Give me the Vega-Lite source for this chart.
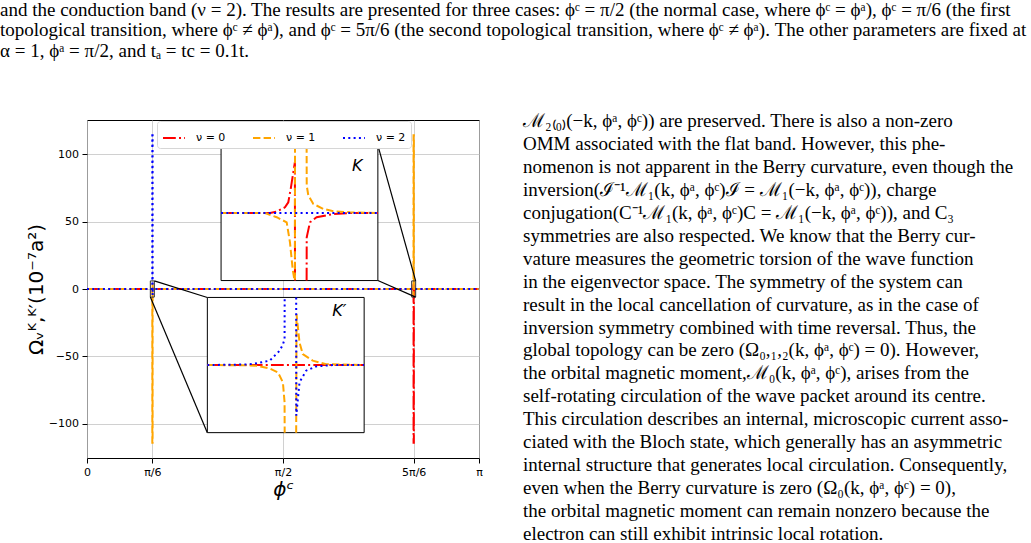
{
  "$schema": "https://vega.github.io/schema/vega-lite/v6.json",
  "padding": 0,
  "bounds": "flush",
  "spacing": 64,
  "resolve": {"scale": {"color": "independent", "strokeDash": "independent"}, "legend": {"color": "independent", "strokeDash": "independent"}},
  "config": {
    "view": {"stroke": null},
    "axis": {
      "labelFont": "DejaVu Sans", "labelFontSize": 11, "labelColor": "#000",
      "titleFont": "DejaVu Sans", "titleColor": "#000", "titleFontWeight": "normal",
      "tickColor": "#000", "tickSize": 5, "labelPadding": 3.5, "domain": false,
      "gridColor": "#c4c4c4", "gridWidth": 0.8
    }
  },
  "vconcat": [
    {
      "width": 1031, "height": 54,
      "data": {"values": [
        {"line": 1, "t": "and the conduction band (ν = 2). The results are presented for three cases: ϕᶜ = π/2 (the normal case, where ϕᶜ = ϕᵃ), ϕᶜ = π/6 (the first"},
        {"line": 2, "t": "topological transition, where ϕᶜ ≠ ϕᵃ), and ϕᶜ = 5π/6 (the second topological transition, where ϕᶜ ≠ ϕᵃ). The other parameters are fixed at"},
        {"line": 3, "t": "α = 1, ϕᵃ = π/2, and tₐ = tc = 0.1t."}
      ]},
      "mark": {"type": "text", "align": "left", "baseline": "middle", "font": "Liberation Serif", "fontSize": 19, "color": "#000"},
      "encoding": {
        "x": {"datum": 0, "type": "quantitative", "scale": {"domain": [0, 1]}, "axis": null},
        "y": {"field": "line", "type": "quantitative", "scale": {"domain": [0.61, 3.244], "reverse": true, "nice": false, "zero": false}, "axis": null},
        "text": {"field": "t"}
      }
    },
    {
      "bounds": "flush",
      "spacing": 44,
      "resolve": {"scale": {"color": "independent", "strokeDash": "independent"}, "legend": {"color": "independent", "strokeDash": "independent"}},
      "hconcat": [
        {
          "width": 43, "height": 338,
          "data": {"values": []},
          "mark": "point",
          "encoding": {}
        },
        {
          "width": 392, "height": 338,
          "view": {"stroke": "#000", "strokeWidth": 1},
          "resolve": {"scale": {"x": "independent", "y": "independent"}},
          "layer": [
            {
              "encoding": {
                "x": {"field": "phi", "type": "quantitative", "title": "ϕᶜ",
                  "scale": {"domain": [0, 3.1415926536], "nice": false, "zero": false},
                  "axis": {"values": [0, 0.5235987756, 1.5707963268, 2.617993878, 3.1415926536],
                    "labelExpr": "datum.value < 0.1 ? '0' : datum.value < 1 ? 'π/6' : datum.value < 2 ? 'π/2' : datum.value < 3 ? '5π/6' : 'π'",
                    "labelFlush": false, "labelOverlap": false, "labelBound": false, "grid": true,
                    "titleFontSize": 20, "titleFontStyle": "italic", "titlePadding": 2}},
                "y": {"field": "om", "type": "quantitative", "title": "Ωᵥᴷ,ᴷ′(10⁻⁷a²)",
                  "scale": {"domain": [-125.4, 125.4], "nice": false, "zero": false},
                  "axis": {"values": [-100, -50, 0, 50, 100], "grid": true, "titleFontSize": 20, "titlePadding": 2, "labelFlush": false}}
              },
              "layer": [
                {
                  "data": {"values": [
                    {"band": "ν = 0", "phi": 0, "om": 0},
                    {"band": "ν = 0", "phi": 2.612, "om": 0},
                    {"band": "ν = 0", "phi": 2.6148, "om": 0.12},
                    {"band": "ν = 0", "phi": 2.616, "om": 0.5},
                    {"band": "ν = 0", "phi": 2.6166, "om": 2.1},
                    {"band": "ν = 0", "phi": 2.617, "om": 4.5},
                    {"band": "ν = 0", "phi": 2.6171, "om": -114},
                    {"band": "ν = 0", "phi": 2.6194, "om": -114},
                    {"band": "ν = 0", "phi": 2.6195, "om": -2.2},
                    {"band": "ν = 0", "phi": 2.6215, "om": -0.4},
                    {"band": "ν = 0", "phi": 2.628, "om": 0},
                    {"band": "ν = 0", "phi": 3.14159, "om": 0},
                    {"band": "ν = 1", "phi": 0, "om": 0},
                    {"band": "ν = 1", "phi": 0.5176, "om": 0},
                    {"band": "ν = 1", "phi": 0.522, "om": -0.3},
                    {"band": "ν = 1", "phi": 0.523, "om": -1.5},
                    {"band": "ν = 1", "phi": 0.5233, "om": -3.3},
                    {"band": "ν = 1", "phi": 0.52337, "om": -114},
                    {"band": "ν = 1", "phi": 0.52574, "om": -114},
                    {"band": "ν = 1", "phi": 0.52584, "om": 4.5},
                    {"band": "ν = 1", "phi": 0.5263, "om": 1.0},
                    {"band": "ν = 1", "phi": 0.5291, "om": 0.1},
                    {"band": "ν = 1", "phi": 0.534, "om": 0},
                    {"band": "ν = 1", "phi": 2.611, "om": 0},
                    {"band": "ν = 1", "phi": 2.6134, "om": -0.4},
                    {"band": "ν = 1", "phi": 2.6154, "om": -0.8},
                    {"band": "ν = 1", "phi": 2.6166, "om": -5},
                    {"band": "ν = 1", "phi": 2.61707, "om": 114},
                    {"band": "ν = 1", "phi": 2.61946, "om": 114},
                    {"band": "ν = 1", "phi": 2.6195, "om": 2.4},
                    {"band": "ν = 1", "phi": 2.6208, "om": 0.8},
                    {"band": "ν = 1", "phi": 2.6249, "om": 0.15},
                    {"band": "ν = 1", "phi": 2.63, "om": 0},
                    {"band": "ν = 1", "phi": 3.14159, "om": 0},
                    {"band": "ν = 2", "phi": 0, "om": 0},
                    {"band": "ν = 2", "phi": 0.5176, "om": 0},
                    {"band": "ν = 2", "phi": 0.5203, "om": 0.4},
                    {"band": "ν = 2", "phi": 0.5224, "om": 1.3},
                    {"band": "ν = 2", "phi": 0.5233, "om": 2.3},
                    {"band": "ν = 2", "phi": 0.52337, "om": 114},
                    {"band": "ν = 2", "phi": 0.52574, "om": 114},
                    {"band": "ν = 2", "phi": 0.52584, "om": -4.5},
                    {"band": "ν = 2", "phi": 0.5264, "om": -0.5},
                    {"band": "ν = 2", "phi": 0.5298, "om": 0},
                    {"band": "ν = 2", "phi": 3.14159, "om": 0}
                  ]},
                  "mark": {"type": "line", "strokeWidth": 2, "clip": true},
                  "encoding": {
                    "color": {"field": "band", "type": "nominal", "title": null,
                      "scale": {"domain": ["ν = 0", "ν = 1", "ν = 2"], "range": ["#ff0000", "#ffa500", "#0000ff"]},
                      "legend": {"orient": "none", "legendX": 70, "legendY": 1, "direction": "horizontal",
                        "symbolType": "stroke", "symbolSize": 484, "symbolStrokeWidth": 2,
                        "labelFont": "DejaVu Sans", "labelFontSize": 11, "labelColor": "#000",
                        "labelOffset": 10, "columnPadding": 23, "padding": 5,
                        "fillColor": "#fff", "strokeColor": "#d6d6d6", "cornerRadius": 3}},
                    "strokeDash": {"field": "band", "type": "nominal", "title": null,
                      "scale": {"domain": ["ν = 0", "ν = 1", "ν = 2"], "range": [[12.8, 3.2, 2, 3.2], [7.4, 3.2], [2, 3.3]]},
                      "legend": {"orient": "none", "legendX": 70, "legendY": 1, "direction": "horizontal",
                        "symbolType": "stroke", "symbolSize": 484, "symbolStrokeWidth": 2,
                        "labelFont": "DejaVu Sans", "labelFontSize": 11, "labelColor": "#000",
                        "labelOffset": 10, "columnPadding": 23, "padding": 5,
                        "fillColor": "#fff", "strokeColor": "#d6d6d6", "cornerRadius": 3}}
                  }
                },
                {
                  "data": {"values": [
                    {"phi": 0.5076, "phi2": 0.5396, "om": -6, "om2": 6},
                    {"phi": 2.602, "phi2": 2.634, "om": -6, "om2": 6}
                  ]},
                  "mark": {"type": "rect", "fillOpacity": 0, "stroke": "#333", "strokeWidth": 1},
                  "encoding": {"x2": {"field": "phi2"}, "y2": {"field": "om2"}}
                },
                {
                  "data": {"values": [
                    {"phi": 0.5396, "om": 6, "phi2": 0.9645, "om2": -6.27},
                    {"phi": 0.5076, "om": -6, "phi2": 0.9645, "om2": -106.59},
                    {"phi": 2.634, "om": 6, "phi2": 2.3311, "om2": 106.59},
                    {"phi": 2.634, "om": -6, "phi2": 2.3311, "om2": 6.27}
                  ]},
                  "mark": {"type": "rule", "color": "#000", "strokeWidth": 1.2},
                  "encoding": {"x2": {"field": "phi2"}, "y2": {"field": "om2"}}
                }
              ]
            },
            {
              "encoding": {
                "x": {"field": "d", "type": "quantitative", "scale": {"domain": [-43.36, 36.64], "nice": false, "zero": false}, "axis": null},
                "y": {"field": "om", "type": "quantitative", "scale": {"domain": [-21.75, 8.25], "nice": false, "zero": false}, "axis": null}
              },
              "layer": [
                {
                  "data": {"values": [{"d": -16, "d2": 16, "om": -6, "om2": 6}]},
                  "mark": {"type": "rect", "fill": "#fff", "stroke": "#000", "strokeWidth": 1},
                  "encoding": {"x2": {"field": "d2"}, "y2": {"field": "om2"}}
                },
                {
                  "data": {"values": [
                    {"band": "ν = 0", "seg": "a", "d": -16, "om": 0},
                    {"band": "ν = 0", "seg": "a", "d": -6, "om": 0},
                    {"band": "ν = 0", "seg": "a", "d": -4.65, "om": 0.12},
                    {"band": "ν = 0", "seg": "a", "d": -2.96, "om": 0.5},
                    {"band": "ν = 0", "seg": "a", "d": -2.28, "om": 0.95},
                    {"band": "ν = 0", "seg": "a", "d": -1.79, "om": 2.13},
                    {"band": "ν = 0", "seg": "a", "d": -1.26, "om": 3.6},
                    {"band": "ν = 0", "seg": "a", "d": -0.93, "om": 4.5},
                    {"band": "ν = 0", "seg": "a", "d": -0.91, "om": -6},
                    {"band": "ν = 0", "seg": "b", "d": 1.46, "om": -6},
                    {"band": "ν = 0", "seg": "b", "d": 1.48, "om": -2.16},
                    {"band": "ν = 0", "seg": "b", "d": 2.14, "om": -0.83},
                    {"band": "ν = 0", "seg": "b", "d": 3.5, "om": -0.38},
                    {"band": "ν = 0", "seg": "b", "d": 6.9, "om": -0.09},
                    {"band": "ν = 0", "seg": "b", "d": 10.3, "om": 0},
                    {"band": "ν = 0", "seg": "b", "d": 16, "om": 0},
                    {"band": "ν = 1", "seg": "a", "d": -16, "om": 0},
                    {"band": "ν = 1", "seg": "a", "d": -7.03, "om": 0},
                    {"band": "ν = 1", "seg": "a", "d": -4.65, "om": -0.38},
                    {"band": "ν = 1", "seg": "a", "d": -2.61, "om": -0.83},
                    {"band": "ν = 1", "seg": "a", "d": -1.94, "om": -2.6},
                    {"band": "ν = 1", "seg": "a", "d": -1.39, "om": -4.98},
                    {"band": "ν = 1", "seg": "a", "d": -1.06, "om": -5.87},
                    {"band": "ν = 1", "seg": "a", "d": -0.93, "om": -6},
                    {"band": "ν = 1", "seg": "a", "d": -0.91, "om": 6},
                    {"band": "ν = 1", "seg": "b", "d": 1.46, "om": 6},
                    {"band": "ν = 1", "seg": "b", "d": 1.48, "om": 2.44},
                    {"band": "ν = 1", "seg": "b", "d": 1.81, "om": 1.55},
                    {"band": "ν = 1", "seg": "b", "d": 2.83, "om": 0.8},
                    {"band": "ν = 1", "seg": "b", "d": 4.87, "om": 0.36},
                    {"band": "ν = 1", "seg": "b", "d": 6.91, "om": 0.15},
                    {"band": "ν = 1", "seg": "b", "d": 10.3, "om": 0.06},
                    {"band": "ν = 1", "seg": "b", "d": 16, "om": 0},
                    {"band": "ν = 2", "seg": "a", "d": -16, "om": 0},
                    {"band": "ν = 2", "seg": "a", "d": 16, "om": 0}
                  ]},
                  "mark": {"type": "line", "strokeWidth": 2},
                  "encoding": {
                    "detail": {"field": "seg"},
                    "color": {"field": "band", "type": "nominal", "title": null,
                      "scale": {"domain": ["ν = 0", "ν = 1", "ν = 2"], "range": ["#ff0000", "#ffa500", "#0000ff"]},
                      "legend": {"orient": "none", "legendX": 70, "legendY": 1, "direction": "horizontal",
                        "symbolType": "stroke", "symbolSize": 484, "symbolStrokeWidth": 2,
                        "labelFont": "DejaVu Sans", "labelFontSize": 11, "labelColor": "#000",
                        "labelOffset": 10, "columnPadding": 23, "padding": 5,
                        "fillColor": "#fff", "strokeColor": "#d6d6d6", "cornerRadius": 3}},
                    "strokeDash": {"field": "band", "type": "nominal", "title": null,
                      "scale": {"domain": ["ν = 0", "ν = 1", "ν = 2"], "range": [[12.8, 3.2, 2, 3.2], [7.4, 3.2], [2, 3.3]]},
                      "legend": {"orient": "none", "legendX": 70, "legendY": 1, "direction": "horizontal",
                        "symbolType": "stroke", "symbolSize": 484, "symbolStrokeWidth": 2,
                        "labelFont": "DejaVu Sans", "labelFontSize": 11, "labelColor": "#000",
                        "labelOffset": 10, "columnPadding": 23, "padding": 5,
                        "fillColor": "#fff", "strokeColor": "#d6d6d6", "cornerRadius": 3}}
                  }
                },
                {
                  "data": {"values": [{"d": 11.8, "om": 4.15, "t": "K"}]},
                  "mark": {"type": "text", "font": "DejaVu Sans", "fontSize": 16, "fontStyle": "italic", "align": "center", "baseline": "middle", "color": "#000"},
                  "encoding": {"text": {"field": "t"}}
                }
              ]
            },
            {
              "encoding": {
                "x": {"field": "d", "type": "quantitative", "scale": {"domain": [-40.56, 39.44], "nice": false, "zero": false}, "axis": null},
                "y": {"field": "om", "type": "quantitative", "scale": {"domain": [-8.25, 21.75], "nice": false, "zero": false}, "axis": null}
              },
              "layer": [
                {
                  "data": {"values": [{"d": -16, "d2": 16, "om": -6, "om2": 6}]},
                  "mark": {"type": "rect", "fill": "#fff", "stroke": "#000", "strokeWidth": 1},
                  "encoding": {"x2": {"field": "d2"}, "y2": {"field": "om2"}}
                },
                {
                  "data": {"values": [
                    {"band": "ν = 0", "seg": "a", "d": -16, "om": 0},
                    {"band": "ν = 0", "seg": "a", "d": 16, "om": 0},
                    {"band": "ν = 1", "seg": "a", "d": -16, "om": 0},
                    {"band": "ν = 1", "seg": "a", "d": -8, "om": -0.02},
                    {"band": "ν = 1", "seg": "a", "d": -5.98, "om": -0.06},
                    {"band": "ν = 1", "seg": "a", "d": -3.28, "om": -0.3},
                    {"band": "ν = 1", "seg": "a", "d": -1.59, "om": -0.65},
                    {"band": "ν = 1", "seg": "a", "d": -0.58, "om": -1.54},
                    {"band": "ν = 1", "seg": "a", "d": -0.24, "om": -3.3},
                    {"band": "ν = 1", "seg": "a", "d": -0.22, "om": -6},
                    {"band": "ν = 1", "seg": "b", "d": 2.13, "om": -6},
                    {"band": "ν = 1", "seg": "b", "d": 2.2, "om": 4.52},
                    {"band": "ν = 1", "seg": "b", "d": 2.81, "om": 2.0},
                    {"band": "ν = 1", "seg": "b", "d": 3.48, "om": 0.97},
                    {"band": "ν = 1", "seg": "b", "d": 5.51, "om": 0.39},
                    {"band": "ν = 1", "seg": "b", "d": 8.23, "om": 0.08},
                    {"band": "ν = 1", "seg": "b", "d": 16, "om": 0},
                    {"band": "ν = 2", "seg": "a", "d": -16, "om": 0},
                    {"band": "ν = 2", "seg": "a", "d": -8, "om": 0.05},
                    {"band": "ν = 2", "seg": "a", "d": -5.98, "om": 0.15},
                    {"band": "ν = 2", "seg": "a", "d": -3.28, "om": 0.39},
                    {"band": "ν = 2", "seg": "a", "d": -1.25, "om": 1.27},
                    {"band": "ν = 2", "seg": "a", "d": -0.6, "om": 1.8},
                    {"band": "ν = 2", "seg": "a", "d": -0.24, "om": 2.3},
                    {"band": "ν = 2", "seg": "a", "d": -0.22, "om": 6},
                    {"band": "ν = 2", "seg": "b", "d": 2.13, "om": 6},
                    {"band": "ν = 2", "seg": "b", "d": 2.15, "om": -4.49},
                    {"band": "ν = 2", "seg": "b", "d": 2.81, "om": -1.53},
                    {"band": "ν = 2", "seg": "b", "d": 4.17, "om": -0.5},
                    {"band": "ν = 2", "seg": "b", "d": 6.2, "om": -0.12},
                    {"band": "ν = 2", "seg": "b", "d": 9.58, "om": 0},
                    {"band": "ν = 2", "seg": "b", "d": 16, "om": 0}
                  ]},
                  "mark": {"type": "line", "strokeWidth": 2},
                  "encoding": {
                    "detail": {"field": "seg"},
                    "color": {"field": "band", "type": "nominal", "title": null,
                      "scale": {"domain": ["ν = 0", "ν = 1", "ν = 2"], "range": ["#ff0000", "#ffa500", "#0000ff"]},
                      "legend": {"orient": "none", "legendX": 70, "legendY": 1, "direction": "horizontal",
                        "symbolType": "stroke", "symbolSize": 484, "symbolStrokeWidth": 2,
                        "labelFont": "DejaVu Sans", "labelFontSize": 11, "labelColor": "#000",
                        "labelOffset": 10, "columnPadding": 23, "padding": 5,
                        "fillColor": "#fff", "strokeColor": "#d6d6d6", "cornerRadius": 3}},
                    "strokeDash": {"field": "band", "type": "nominal", "title": null,
                      "scale": {"domain": ["ν = 0", "ν = 1", "ν = 2"], "range": [[12.8, 3.2, 2, 3.2], [7.4, 3.2], [2, 3.3]]},
                      "legend": {"orient": "none", "legendX": 70, "legendY": 1, "direction": "horizontal",
                        "symbolType": "stroke", "symbolSize": 484, "symbolStrokeWidth": 2,
                        "labelFont": "DejaVu Sans", "labelFontSize": 11, "labelColor": "#000",
                        "labelOffset": 10, "columnPadding": 23, "padding": 5,
                        "fillColor": "#fff", "strokeColor": "#d6d6d6", "cornerRadius": 3}}
                  }
                },
                {
                  "data": {"values": [{"d": 10.93, "om": 4.76, "t": "K′"}]},
                  "mark": {"type": "text", "font": "DejaVu Sans", "fontSize": 16, "fontStyle": "italic", "align": "center", "baseline": "middle", "color": "#000"},
                  "encoding": {"text": {"field": "t"}}
                }
              ]
            }
          ]
        },
        {
          "width": 508, "height": 424,
          "data": {"values": [
            {"line": 1, "t": "ℳ₂₍₀₎(−k, ϕᵃ, ϕᶜ)) are preserved. There is also a non-zero"},
            {"line": 2, "t": "OMM associated with the flat band. However, this phe-"},
            {"line": 3, "t": "nomenon is not apparent in the Berry curvature, even though the"},
            {"line": 4, "t": "inversion(ℐ⁻¹ℳ₁(k, ϕᵃ, ϕᶜ)ℐ = ℳ₁(−k, ϕᵃ, ϕᶜ)), charge"},
            {"line": 5, "t": "conjugation(C⁻¹ℳ₁(k, ϕᵃ, ϕᶜ)C = ℳ₁(−k, ϕᵃ, ϕᶜ)), and C₃"},
            {"line": 6, "t": "symmetries are also respected. We know that the Berry cur-"},
            {"line": 7, "t": "vature measures the geometric torsion of the wave function"},
            {"line": 8, "t": "in the eigenvector space. The symmetry of the system can"},
            {"line": 9, "t": "result in the local cancellation of curvature, as in the case of"},
            {"line": 10, "t": "inversion symmetry combined with time reversal. Thus, the"},
            {"line": 11, "t": "global topology can be zero (Ω₀,₁,₂(k, ϕᵃ, ϕᶜ) = 0). However,"},
            {"line": 12, "t": "the orbital magnetic moment,ℳ₀(k, ϕᵃ, ϕᶜ), arises from the"},
            {"line": 13, "t": "self-rotating circulation of the wave packet around its centre."},
            {"line": 14, "t": "This circulation describes an internal, microscopic current asso-"},
            {"line": 15, "t": "ciated with the Bloch state, which generally has an asymmetric"},
            {"line": 16, "t": "internal structure that generates local circulation. Consequently,"},
            {"line": 17, "t": "even when the Berry curvature is zero (Ω₀(k, ϕᵃ, ϕᶜ) = 0),"},
            {"line": 18, "t": "the orbital magnetic moment can remain nonzero because the"},
            {"line": 19, "t": "electron can still exhibit intrinsic local rotation."}
          ]},
          "mark": {"type": "text", "align": "left", "baseline": "middle", "font": "Liberation Serif", "fontSize": 19, "color": "#000"},
          "encoding": {
            "x": {"datum": 0, "type": "quantitative", "scale": {"domain": [0, 1]}, "axis": null},
            "y": {"field": "line", "type": "quantitative", "scale": {"domain": [0.9345, 19.45], "reverse": true, "nice": false, "zero": false}, "axis": null},
            "text": {"field": "t"}
          }
        }
      ]
    }
  ]
}
